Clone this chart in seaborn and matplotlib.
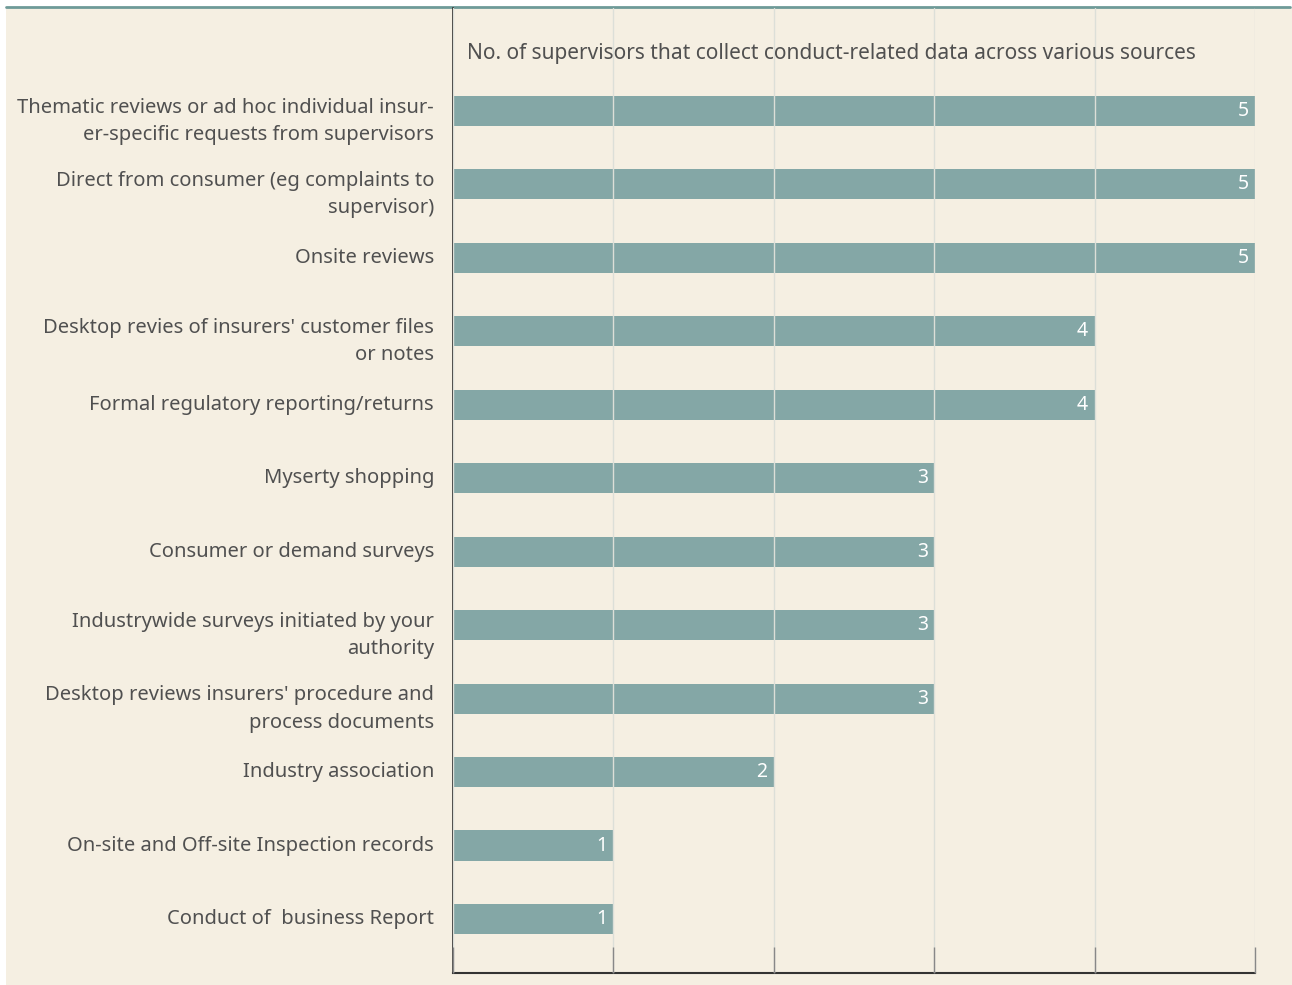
import matplotlib
matplotlib.use('Agg')
import matplotlib.pyplot as plt
import matplotlib.transforms as mtrans
import seaborn as sns
import pandas as pd
from matplotlib.patches import Rectangle
from matplotlib.lines import Line2D

sources = [
    "Thematic reviews or ad hoc individual insur-\ner-specific requests from supervisors",
    "Direct from consumer (eg complaints to\nsupervisor)",
    "Onsite reviews",
    "Desktop revies of insurers' customer files\nor notes",
    "Formal regulatory reporting/returns",
    "Myserty shopping",
    "Consumer or demand surveys",
    "Industrywide surveys initiated by your\nauthority",
    "Desktop reviews insurers' procedure and\nprocess documents",
    "Industry association",
    "On-site and Off-site Inspection records",
    "Conduct of  business Report",
]
counts = [5, 5, 5, 4, 4, 3, 3, 3, 3, 2, 1, 1]
title = "No. of supervisors that collect conduct-related data across various sources"

df = pd.DataFrame({"source": sources, "count": counts})

beige = "#F5EFE2"
teal = "#84A7A6"
textc = "#505050"

sns.set_style("white")
plt.rcParams['font.family'] = ['Noto Sans', 'DejaVu Sans']

fig = plt.figure(figsize=(12.92, 9.85), dpi=100, facecolor="white")
W, H = 1292, 985
fig.patches.append(Rectangle((6 / W, 0), 1 - 6 / W, 1 - 8 / H, transform=fig.transFigure,
                             facecolor=beige, edgecolor="none", zorder=-10))
fig.lines.append(Line2D([6 / W, 1290 / W], [1 - 7 / H, 1 - 7 / H], transform=fig.transFigure,
                        color="#6E9A98", lw=2, zorder=-5))

ax = fig.add_axes([453 / W, 1 - 973 / H, (1255 - 453) / W, (973 - 8) / H])
ax.set_facecolor("none")

sns.barplot(data=df, x="count", y="source", orient="h", color=teal, saturation=1,
            width=0.41, linewidth=0, ax=ax)

ax.set_xlim(0, 5)
ax.set_ylim(11.735, -1.4)
ax.set_xticks(range(0, 6))
ax.set_xticklabels([])
ax.set_yticklabels([])
ax.xaxis.grid(True, color="#dcdfd8", lw=1)
ax.set_axisbelow(False)
ax.tick_params(axis="x", direction="in", length=19, width=1, color="#888888", bottom=True)
ax.tick_params(axis="y", length=0)
ax.set_xlabel("")
ax.set_ylabel("")

# category labels, two-line ones sit a little lower like the original
ytrans = ax.get_yaxis_transform()
for i, s in enumerate(sources):
    tr = ytrans
    if "\n" in s:
        tr = ytrans + mtrans.ScaledTranslation(0, -7.5 / 72, fig.dpi_scale_trans)
    ax.text(-19 / (1255 - 453), i, s, transform=tr, ha="right", va="center",
            multialignment="right", fontsize=14.5, color=textc, linespacing=1.5)

for s in ["top", "right"]:
    ax.spines[s].set_visible(False)
ax.spines["left"].set_color("#333333")
ax.spines["bottom"].set_color("#333333")
ax.spines["left"].set_linewidth(1.2)
ax.spines["bottom"].set_linewidth(1.5)

for i, v in enumerate(counts):
    ax.text(v - 0.04, i, str(v), color="white", ha="right", va="center", fontsize=14, zorder=3)

ax.text(14 / (1255 - 453), 1 - (53 - 8) / (973 - 8), title, transform=ax.transAxes,
        ha="left", va="center", fontsize=15, color=textc)

fig.savefig("out.png", dpi=100, facecolor="white")
